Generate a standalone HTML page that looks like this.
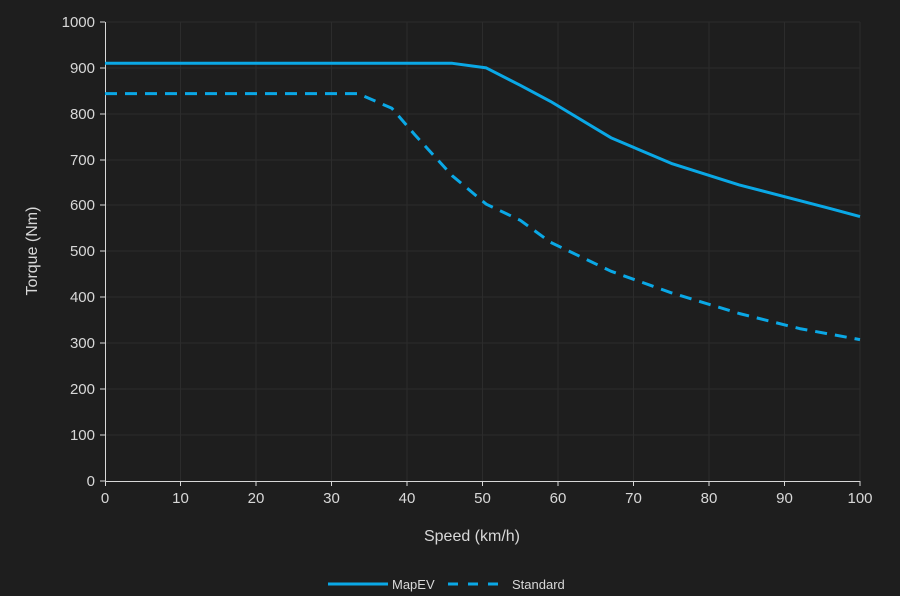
<!DOCTYPE html>
<html><head><meta charset="utf-8"><style>
html,body{margin:0;padding:0;background:#1e1e1e;}
svg{display:block;font-family:"Liberation Sans",sans-serif;}
</style></head><body>
<svg width="900" height="596" viewBox="0 0 900 596">
<rect width="900" height="596" fill="#1e1e1e"/>
<g stroke="#2c2c2c" stroke-width="1">
<line x1="105" y1="22" x2="860" y2="22"/><line x1="105" y1="68" x2="860" y2="68"/><line x1="105" y1="114" x2="860" y2="114"/><line x1="105" y1="160" x2="860" y2="160"/><line x1="105" y1="205" x2="860" y2="205"/><line x1="105" y1="251" x2="860" y2="251"/><line x1="105" y1="297" x2="860" y2="297"/><line x1="105" y1="343" x2="860" y2="343"/><line x1="105" y1="389" x2="860" y2="389"/><line x1="105" y1="435" x2="860" y2="435"/>
<line x1="180.5" y1="22" x2="180.5" y2="481"/><line x1="256" y1="22" x2="256" y2="481"/><line x1="331.5" y1="22" x2="331.5" y2="481"/><line x1="407" y1="22" x2="407" y2="481"/><line x1="482.5" y1="22" x2="482.5" y2="481"/><line x1="558" y1="22" x2="558" y2="481"/><line x1="633.5" y1="22" x2="633.5" y2="481"/><line x1="709" y1="22" x2="709" y2="481"/><line x1="784.5" y1="22" x2="784.5" y2="481"/><line x1="860" y1="22" x2="860" y2="481"/>
</g>
<g stroke="#d8d8d8" stroke-width="1">
<line x1="105.5" y1="22" x2="105.5" y2="481"/><line x1="105" y1="481.5" x2="860" y2="481.5"/>
<line x1="100" y1="22" x2="105" y2="22"/><line x1="100" y1="68" x2="105" y2="68"/><line x1="100" y1="114" x2="105" y2="114"/><line x1="100" y1="160" x2="105" y2="160"/><line x1="100" y1="205" x2="105" y2="205"/><line x1="100" y1="251" x2="105" y2="251"/><line x1="100" y1="297" x2="105" y2="297"/><line x1="100" y1="343" x2="105" y2="343"/><line x1="100" y1="389" x2="105" y2="389"/><line x1="100" y1="435" x2="105" y2="435"/><line x1="100" y1="481" x2="105" y2="481"/>
<line x1="105.5" y1="481" x2="105.5" y2="486"/><line x1="180.5" y1="481" x2="180.5" y2="486"/><line x1="256" y1="481" x2="256" y2="486"/><line x1="331.5" y1="481" x2="331.5" y2="486"/><line x1="407" y1="481" x2="407" y2="486"/><line x1="482.5" y1="481" x2="482.5" y2="486"/><line x1="558" y1="481" x2="558" y2="486"/><line x1="633.5" y1="481" x2="633.5" y2="486"/><line x1="709" y1="481" x2="709" y2="486"/><line x1="784.5" y1="481" x2="784.5" y2="486"/><line x1="860" y1="481" x2="860" y2="486"/>
</g>
<g fill="#d8d8d8" font-size="15" text-anchor="end">
<text x="95" y="27">1000</text><text x="95" y="73">900</text><text x="95" y="119">800</text><text x="95" y="165">700</text><text x="95" y="210">600</text><text x="95" y="256">500</text><text x="95" y="302">400</text><text x="95" y="348">300</text><text x="95" y="394">200</text><text x="95" y="440">100</text><text x="95" y="486">0</text>
</g>
<g fill="#d8d8d8" font-size="15" text-anchor="middle">
<text x="105" y="503">0</text><text x="180.5" y="503">10</text><text x="256" y="503">20</text><text x="331.5" y="503">30</text><text x="407" y="503">40</text><text x="482.5" y="503">50</text><text x="558" y="503">60</text><text x="633.5" y="503">70</text><text x="709" y="503">80</text><text x="784.5" y="503">90</text><text x="860" y="503">100</text>
<text x="472" y="541" font-size="16">Speed (km/h)</text>
<text transform="translate(37,251) rotate(-90)" font-size="16">Torque (Nm)</text>
</g>
<polyline fill="none" stroke="#0aa8e6" stroke-width="3" stroke-linejoin="round" points="105,63.3 452.3,63.3 486.3,67.9 520.3,85.3 550.5,101.4 610.9,137.7 671.3,163.4 739.2,184.9 829.8,208.4 860,216.6"/>
<polyline fill="none" stroke="#0aa8e6" stroke-width="3" stroke-dasharray="12,8" stroke-linejoin="round" points="105,93.6 357.9,93.6 391.9,108.3 414.6,134.5 452.3,175.8 486.3,204.2 520.3,220.3 550.5,242.3 610.9,271.2 671.3,292.8 739.2,313.5 799.6,328.6 860,339.6"/>
<line x1="328" y1="584" x2="388" y2="584" stroke="#0aa8e6" stroke-width="3"/>
<line x1="448" y1="584" x2="502" y2="584" stroke="#0aa8e6" stroke-width="3" stroke-dasharray="10,10"/>
<text x="392" y="589" fill="#d8d8d8" font-size="13">MapEV</text>
<text x="512" y="589" fill="#d8d8d8" font-size="13">Standard</text>
</svg>
</body></html>
